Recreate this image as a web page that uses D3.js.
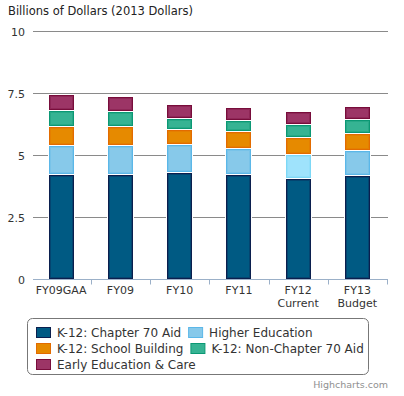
<!DOCTYPE html>
<html>
<head>
<meta charset="utf-8">
<script src="https://cdn.jsdelivr.net/npm/d3@7"></script>
<style>
  html, body { margin: 0; padding: 0; background: #fff; }
  svg { display: block; font-family: "DejaVu Sans", Verdana, sans-serif; }
</style>
</head>
<body>
<div id="chart"></div>
<script>
// categories (second line of label after \n)
const categories = ["FY09GAA", "FY09", "FY10", "FY11", "FY12\nCurrent", "FY13\nBudget"];

// series values, billions of 2013 dollars
const seriesNames = ["K-12: Chapter 70 Aid", "Higher Education", "K-12: School Building", "K-12: Non-Chapter 70 Aid", "Early Education & Care"];
const chapter70 = [4.22, 4.21, 4.29, 4.21, 4.04, 4.17];
const higherEd = [1.16, 1.17, 1.13, 1.04, 0.97, 1.00];
const schoolBuilding = [0.77, 0.76, 0.60, 0.69, 0.69, 0.69];
const nonChapter70 = [0.65, 0.61, 0.44, 0.44, 0.52, 0.56];
const earlyEd = [0.64, 0.60, 0.57, 0.52, 0.52, 0.53];

const yTicks = [0, 2.5, 5, 7.5, 10];
const yTickLabels = ["0", "2.5", "5", "7.5", "10"];

const colors = {
    fill: ["#005a83", "#87c9ea", "#e68a00", "#36b393", "#9c3566"],
    stroke: ["#0b1f4e", "#5bb7e8", "#e26b00", "#0b9874", "#780d3b"]
};
// FY12 higher-ed column is shown in its hover state in the original
const hovered = { series: 1, index: 4, fill: "#9fe3fc", stroke: "#7dd8f6" };

const legendRows = [[0, 1], [2, 3], [4]];

const size = { width: 404, height: 396 };
const plot = { left: 32.5, right: 388, top: 31.3, bottom: 279.3 };
const barWidth = 25;

const svg = d3.select("#chart").append("svg")
    .attr("width", size.width)
    .attr("height", size.height);

const xScale = d3.scaleBand()
    .domain(d3.range(categories.length))
    .range([plot.left, plot.right])
    .padding(0);

const yScale = d3.scaleLinear()
    .domain([0, 10])
    .range([plot.bottom, plot.top]);

const crisp = v => Math.round(v) + 0.5;

// title
svg.append("text")
    .attr("x", 8)
    .attr("y", 15)
    .attr("font-size", "11.5px")
    .attr("fill", "#222")
    .text("Billions of Dollars (2013 Dollars)");

// grid lines + y labels
const yAxisG = svg.append("g");
yTicks.forEach((t, i) => {
    const y = crisp(yScale(t));
    if (t > 0) {
        yAxisG.append("line")
            .attr("x1", 33).attr("x2", plot.right)
            .attr("y1", y).attr("y2", y)
            .attr("stroke", "#8a8a8a")
            .attr("stroke-width", 1);
    }
    yAxisG.append("text")
        .attr("x", 25)
        .attr("y", y + 4)
        .attr("text-anchor", "end")
        .attr("font-size", "11px")
        .attr("fill", "#333")
        .text(yTickLabels[i]);
});

// stacked columns
const series = [chapter70, higherEd, schoolBuilding, nonChapter70, earlyEd];
const barsG = svg.append("g");
categories.forEach((c, i) => {
    const cx = xScale(i) + xScale.bandwidth() / 2;
    const bx = Math.round(cx - barWidth / 2) - 1;
    let cum = 0;
    const segs = [];
    series.forEach((s, si) => {
        const top = Math.round(yScale(cum + s[i]));
        const bot = Math.round(yScale(cum));
        segs.push({ si, top, bot, first: si === 0 });
        cum += s[i];
    });
    // white outline cuts the grid lines around the column
    const colTop = segs[segs.length - 1].top;
    barsG.append("rect")
        .attr("x", bx - 1).attr("y", colTop - 1)
        .attr("width", barWidth + 2).attr("height", Math.round(plot.bottom) - colTop + 1)
        .attr("fill", "#fff");
    segs.forEach(sg => {
        const isHover = sg.si === hovered.series && i === hovered.index;
        const fill = isHover ? hovered.fill : colors.fill[sg.si];
        const stroke = isHover ? hovered.stroke : colors.stroke[sg.si];
        const h = (sg.first ? sg.bot : sg.bot - 1) - sg.top;
        barsG.append("rect")
            .attr("x", bx + 0.5).attr("y", sg.top + 0.5)
            .attr("width", barWidth - 1).attr("height", h - 1)
            .attr("fill", fill)
            .attr("stroke", stroke)
            .attr("stroke-width", 1);
        barsG.append("rect")
            .attr("x", bx + 1.5).attr("y", sg.top + 1.5)
            .attr("width", barWidth - 3).attr("height", Math.max(0, h - 3))
            .attr("fill", "none")
            .attr("stroke", stroke)
            .attr("stroke-opacity", 0.35)
            .attr("stroke-width", 1);
    });
});

// x axis
const axisY = crisp(plot.bottom);
svg.append("line")
    .attr("x1", 33).attr("x2", plot.right)
    .attr("y1", axisY).attr("y2", axisY)
    .attr("stroke", "#9bb0c8");
d3.range(1, categories.length + 1).forEach(k => {
    const x = crisp(xScale(k - 1) + xScale.bandwidth()) - 1;
    svg.append("line")
        .attr("x1", x).attr("x2", x)
        .attr("y1", axisY).attr("y2", axisY + 5)
        .attr("stroke", "#9bb0c8");
});
categories.forEach((c, i) => {
    const cx = xScale(i) + xScale.bandwidth() / 2 - 1;
    const t = svg.append("text")
        .attr("text-anchor", "middle")
        .attr("font-size", "11px")
        .attr("fill", "#333");
    c.split("\n").forEach((line, li) => {
        t.append("tspan")
            .attr("x", cx)
            .attr("y", 294 + li * 13)
            .text(line);
    });
});

// legend
const legend = svg.append("g");
legend.append("rect")
    .attr("x", 27.5).attr("y", 318.5)
    .attr("width", 341).attr("height", 56)
    .attr("rx", 5).attr("ry", 5)
    .attr("fill", "#fff")
    .attr("stroke", "#777")
    .attr("stroke-width", 1);
legendRows.forEach((row, ri) => {
    let x = 36;
    const cy = 332 + ri * 16;
    row.forEach(si => {
        legend.append("rect")
            .attr("x", x + 0.5).attr("y", cy - 5 + 0.5)
            .attr("width", 14).attr("height", 10)
            .attr("fill", colors.fill[si])
            .attr("stroke", colors.stroke[si]);
        const txt = legend.append("text")
            .attr("x", x + 21)
            .attr("y", cy + 4.5)
            .attr("font-size", "12px")
            .attr("fill", "#333")
            .text(seriesNames[si]);
        x = x + 21 + txt.node().getComputedTextLength() + 7;
    });
});

// credits
svg.append("text")
    .attr("x", 388)
    .attr("y", 388)
    .attr("text-anchor", "end")
    .attr("font-size", "9.5px")
    .attr("fill", "#909090")
    .text("Highcharts.com");
</script>
</body>
</html>
